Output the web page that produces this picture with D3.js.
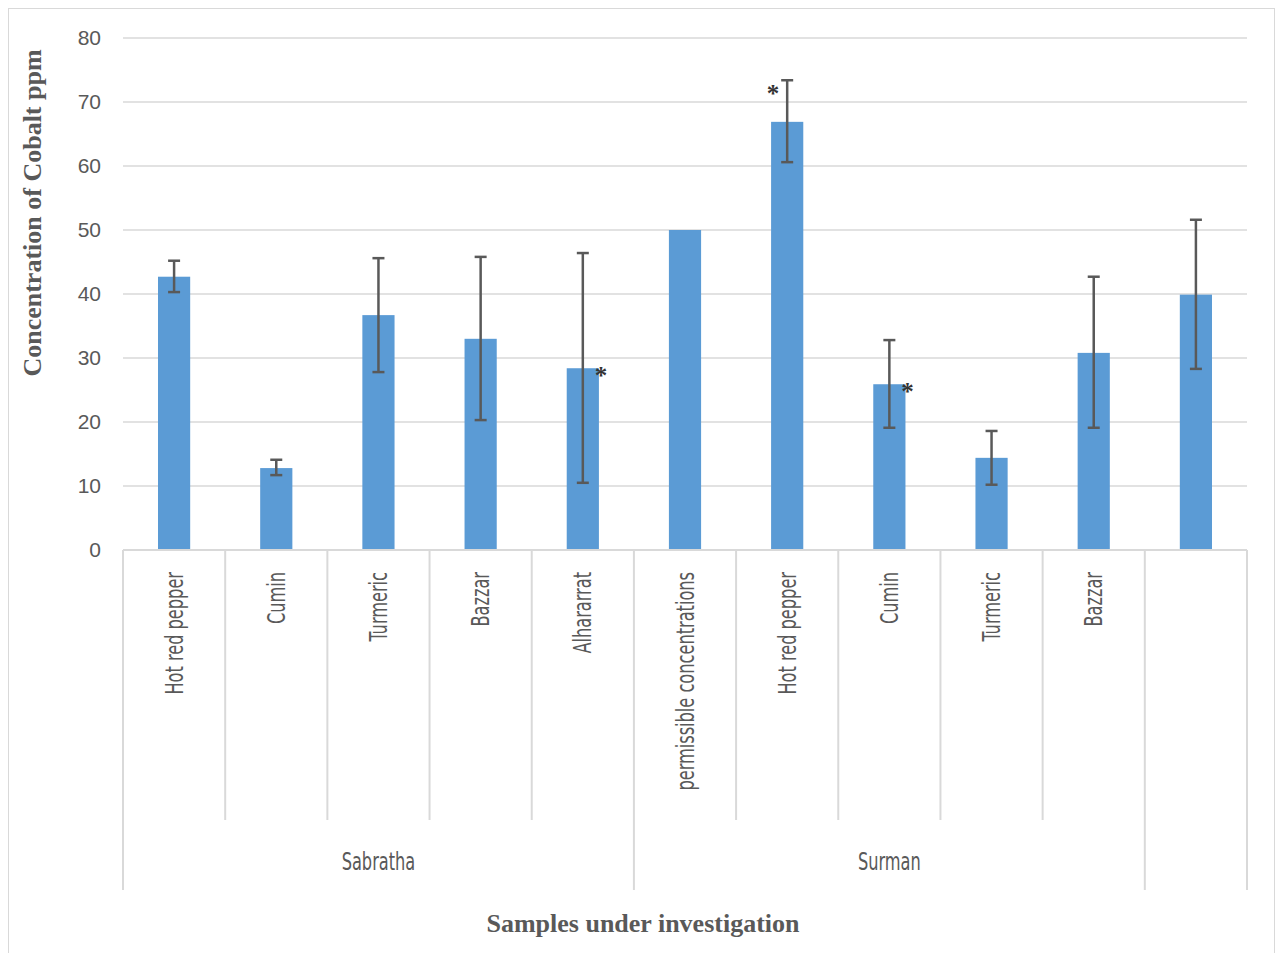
<!DOCTYPE html>
<html>
<head>
<meta charset="utf-8">
<script src="https://cdn.jsdelivr.net/npm/d3@7/dist/d3.min.js"></script>
<style>
  body { margin: 0; background: #fff; }
  svg { display: block; }
</style>
</head>
<body>
<svg id="chart" width="1276" height="953"></svg>
<script>
// cobalt concentration bar chart with error bars

var categories = ["Hot red pepper", "Cumin", "Turmeric", "Bazzar", "Alhararrat",
    "permissible concentrations", "Hot red pepper", "Cumin", "Turmeric", "Bazzar", ""];
var values   = [42.7, 12.8, 36.7, 33.0, 28.4, 50, 66.9, 25.9, 14.4, 30.8, 39.9];
var errHigh  = [45.2, 14.1, 45.6, 45.8, 46.4, null, 73.4, 32.8, 18.6, 42.7, 51.6];
var errLow   = [40.3, 11.7, 27.8, 20.3, 10.5, null, 60.6, 19.1, 10.2, 19.1, 28.3];
var groups   = [{name: "Sabratha", from: 0, to: 5}, {name: "Surman", from: 5, to: 10}, {name: "", from: 10, to: 11}];
var stars    = [{i: 4, side: "right"}, {i: 6, side: "left", top: true}, {i: 7, side: "right"}];
var yTicks   = [0, 10, 20, 30, 40, 50, 60, 70, 80];

var svg = d3.select("#chart");
var plotL = 123, plotR = 1247, plotT = 38, plotB = 550;
var grey = "#595959", gridCol = "#d9d9d9";
var narrow = "'DejaVu Sans Condensed', 'DejaVu Sans', sans-serif";
var squeeze = 0.75;   // fake the condensed label face

// outer frame
svg.append("rect")
    .attr("x", 8.5).attr("y", 8.5)
    .attr("width", 1266).attr("height", 980)
    .attr("fill", "none").attr("stroke", gridCol);

var x = d3.scaleBand().domain(d3.range(categories.length)).range([plotL, plotR]).padding(0);
var y = d3.scaleLinear().domain([0, 80]).range([plotB, plotT]);
var barW = x.bandwidth() * 0.315;

// gridlines
svg.append("g").selectAll("line")
    .data(yTicks.filter(function(d) { return d > 0; }))
    .enter().append("line")
    .attr("x1", plotL).attr("x2", plotR)
    .attr("y1", function(d) { return y(d); })
    .attr("y2", function(d) { return y(d); })
    .attr("stroke", gridCol).attr("stroke-width", 1.5);

// y axis labels
svg.append("g").selectAll("text")
    .data(yTicks)
    .enter().append("text")
    .attr("x", 101)
    .attr("y", function(d) { return y(d); })
    .attr("dy", "0.35em")
    .attr("text-anchor", "end")
    .style("font-family", "'Liberation Sans', Arial, sans-serif")
    .style("font-size", "21px")
    .style("fill", grey)
    .text(function(d) { return d; });

// bars
svg.append("g").selectAll("rect")
    .data(values)
    .enter().append("rect")
    .attr("x", function(d, i) { return x(i) + (x.bandwidth() - barW) / 2; })
    .attr("y", function(d) { return y(d); })
    .attr("width", barW)
    .attr("height", function(d) { return plotB - y(d); })
    .attr("fill", "#5b9bd5");

// error bars
var eb = svg.append("g").attr("stroke", grey).attr("stroke-width", 2.5);
values.forEach(function(v, i) {
    if (errHigh[i] == null) return;
    var cx = x(i) + x.bandwidth() / 2;
    eb.append("line").attr("x1", cx).attr("x2", cx).attr("y1", y(errHigh[i])).attr("y2", y(errLow[i]));
    [errHigh[i], errLow[i]].forEach(function(e) {
        eb.append("line").attr("x1", cx - 6).attr("x2", cx + 6).attr("y1", y(e)).attr("y2", y(e));
    });
});

// significance stars
svg.append("g").selectAll("text")
    .data(stars)
    .enter().append("text")
    .attr("x", function(d) {
        var cx = x(d.i) + x.bandwidth() / 2;
        return d.side == "right" ? cx + barW / 2 + 2 : cx - barW / 2 + 2;
    })
    .attr("y", function(d) { return d.top ? y(errHigh[d.i]) + 22 : y(values[d.i]) + 16; })
    .attr("text-anchor", "middle")
    .style("font-family", "'Liberation Serif', serif")
    .style("font-weight", "bold")
    .style("font-size", "25px")
    .style("fill", "#333")
    .text("*");

// category axis
var ax = svg.append("g").attr("stroke", gridCol).attr("stroke-width", 2);
ax.append("line").attr("x1", plotL).attr("x2", plotR).attr("y1", plotB).attr("y2", plotB);
d3.range(categories.length + 1).forEach(function(i) {
    var xx = i < categories.length ? x(i) : plotR;
    var isGroupEdge = groups.some(function(g) { return g.from == i || g.to == i; });
    ax.append("line").attr("x1", xx).attr("x2", xx)
        .attr("y1", plotB).attr("y2", isGroupEdge ? 890 : 820);
});

svg.append("g").selectAll("text")
    .data(categories)
    .enter().append("text")
    .attr("transform", function(d, i) {
        return "translate(" + (x(i) + x.bandwidth() / 2) + ",572) rotate(-90) scale(" + squeeze + ",1)";
    })
    .attr("dy", "0.36em")
    .attr("text-anchor", "end")
    .style("font-family", narrow)
    .style("font-size", "24px")
    .style("fill", grey)
    .text(function(d) { return d; });

svg.append("g").selectAll("text")
    .data(groups)
    .enter().append("text")
    .attr("transform", function(g) {
        var cx = (x(g.from) + (g.to < categories.length ? x(g.to) : plotR)) / 2;
        return "translate(" + cx + ",870) scale(" + squeeze + ",1)";
    })
    .attr("text-anchor", "middle")
    .style("font-family", narrow)
    .style("font-size", "24px")
    .style("fill", grey)
    .text(function(g) { return g.name; });

// axis titles
svg.append("text")
    .attr("transform", "translate(41,213) rotate(-90)")
    .attr("text-anchor", "middle")
    .style("font-family", "'Liberation Serif', 'Times New Roman', serif")
    .style("font-weight", "bold")
    .style("font-size", "26px")
    .style("fill", grey)
    .text("Concentration of Cobalt ppm");

svg.append("text")
    .attr("x", 643).attr("y", 932)
    .attr("text-anchor", "middle")
    .style("font-family", "'Liberation Serif', 'Times New Roman', serif")
    .style("font-weight", "bold")
    .style("font-size", "26px")
    .style("fill", grey)
    .text("Samples under investigation");
</script>
</body>
</html>
